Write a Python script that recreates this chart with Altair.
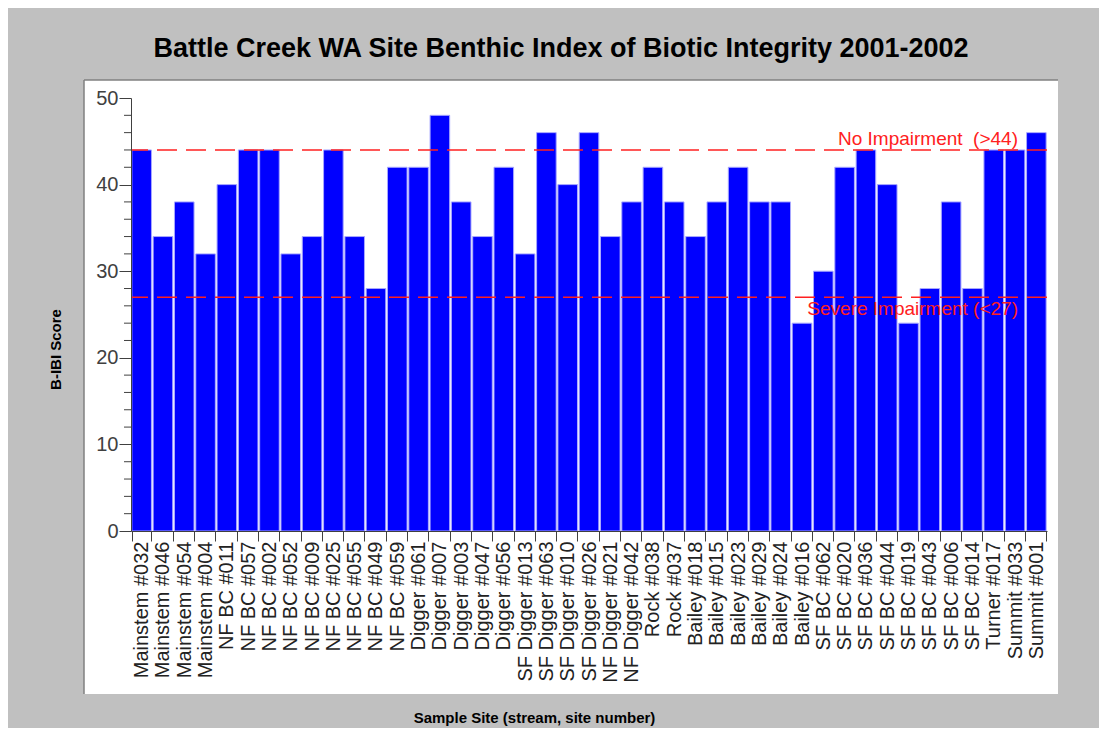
import altair as alt
import pandas as pd

sites = [
    "Mainstem #032", "Mainstem #046", "Mainstem #054", "Mainstem #004",
    "NF BC #011", "NF BC #057", "NF BC #002", "NF BC #052", "NF BC #009",
    "NF BC #025", "NF BC #055", "NF BC #049", "NF BC #059",
    "Digger #061", "Digger #007", "Digger #003", "Digger #047", "Digger #056",
    "SF Digger #013", "SF Digger #063", "SF Digger #010", "SF Digger #026",
    "NF Digger #021", "NF Digger #042",
    "Rock #038", "Rock #037",
    "Bailey #018", "Bailey #015", "Bailey #023", "Bailey #029", "Bailey #024", "Bailey #016",
    "SF BC #062", "SF BC #020", "SF BC #036", "SF BC #044", "SF BC #019",
    "SF BC #043", "SF BC #006", "SF BC #014",
    "Turner #017", "Summit #033", "Summit #001",
]
scores = [
    44, 34, 38, 32,
    40, 44, 44, 32, 34, 44, 34, 28, 42,
    42, 48, 38, 34, 42,
    32, 46, 40, 46,
    34, 38,
    42, 38,
    34, 38, 42, 38, 38, 24,
    30, 42, 44, 40, 24, 28, 38, 28,
    44, 44, 46,
]
threshold_values = [44, 27]
threshold_labels = ["No Impairment\u00a0 (>44)", "Severe Impairment (<27)"]
major_ticks = [0, 10, 20, 30, 40, 50]
minor_ticks = [2, 4, 6, 8, 12, 14, 16, 18, 22, 24, 26, 28, 32, 34, 36, 38, 42, 44, 46, 48]

FONT = "Liberation Sans"
RED = "#ff2020"
W, H = 916, 433

df = pd.DataFrame({"site": sites, "score": scores})
thr = pd.DataFrame({"value": threshold_values, "label": threshold_labels, "kind": ["hi", "lo"]})
minor = pd.DataFrame({"v": minor_ticks})
one = pd.DataFrame({"p": [0]})

panel = alt.Chart(one).mark_rect(fill="white").encode(
    x=alt.value(-47), x2=alt.value(927), y=alt.value(-18), y2=alt.value(596)
)
panel_top = alt.Chart(one).mark_rule(color="#808080", strokeWidth=1.5).encode(
    x=alt.value(-47), x2=alt.value(927), y=alt.value(-18)
)
panel_left = alt.Chart(one).mark_rule(color="#808080", strokeWidth=1.5).encode(
    x=alt.value(-47), y=alt.value(-18), y2=alt.value(596)
)

yscale = alt.Scale(domain=[0, 50], nice=False, zero=True)

bars = alt.Chart(df).mark_bar(color="#0000ff", stroke="#a8a8ff", strokeWidth=1).encode(
    x=alt.X(
        "site:N", sort=None,
        scale=alt.Scale(paddingInner=0.08, paddingOuter=0.04),
        axis=alt.Axis(
            title="Sample Site (stream, site number)",
            titleFont=FONT, titleFontSize=15, titleFontWeight="bold", titleColor="black",
            titleX=403, titleY=186, titleAlign="center", titleBaseline="middle",
            labelAngle=-90, labelFont=FONT, labelFontSize=20, labelColor="#222222",
            labelPadding=0, labelLimit=300,
            tickBand="extent", tickSize=10, tickColor="#404040",
            domainColor="#404040", labelOverlap=False, zindex=2,
        ),
    ),
    y=alt.Y(
        "score:Q", scale=yscale,
        axis=alt.Axis(
            title="B-IBI Score", values=major_ticks,
            titleFont=FONT, titleFontSize=15, titleFontWeight="bold", titleColor="black",
            titleX=-76, titleY=251, titleAlign="center", titleBaseline="middle", titleAngle=-90,
            labelFont=FONT, labelFontSize=20, labelColor="#404040", labelPadding=1,
            tickSize=12, tickColor="#404040", domainColor="#404040", grid=False, zindex=2,
        ),
    ),
)

minor_rules = alt.Chart(minor).mark_rule(color="#404040").encode(
    y=alt.Y("v:Q", scale=yscale), x=alt.value(-7), x2=alt.value(0)
)

thr_rules = alt.Chart(thr).mark_rule(color=RED, strokeDash=[20, 9], strokeWidth=1.5).encode(
    y=alt.Y("value:Q", scale=yscale)
)
thr_text_hi = alt.Chart(thr).transform_filter("datum.kind == 'hi'").mark_text(
    color=RED, font=FONT, fontSize=19, align="right", baseline="alphabetic", dy=-5
).encode(y=alt.Y("value:Q", scale=yscale), x=alt.value(887), text="label:N")
thr_text_lo = alt.Chart(thr).transform_filter("datum.kind == 'lo'").mark_text(
    color=RED, font=FONT, fontSize=19, align="right", baseline="alphabetic", dy=18
).encode(y=alt.Y("value:Q", scale=yscale), x=alt.value(887), text="label:N")

chart = alt.layer(
    panel, panel_top, panel_left, bars, minor_rules, thr_rules, thr_text_hi, thr_text_lo
).properties(
    width=W, height=H,
    title=alt.TitleParams(
        "Battle Creek WA Site Benthic Index of Biotic Integrity 2001-2002",
        font=FONT, fontSize=27, fontWeight="bold", color="black",
        anchor="middle", frame="group", dx=-28, offset=16,
    ),
    background="#c0c0c0",
    autosize=alt.AutoSizeParams(type="none"),
    padding={"left": 123, "top": 90, "right": 52, "bottom": 197},
).configure_view(strokeWidth=0)

chart.save("out.html", embed_options={"renderer": "svg", "actions": False})
